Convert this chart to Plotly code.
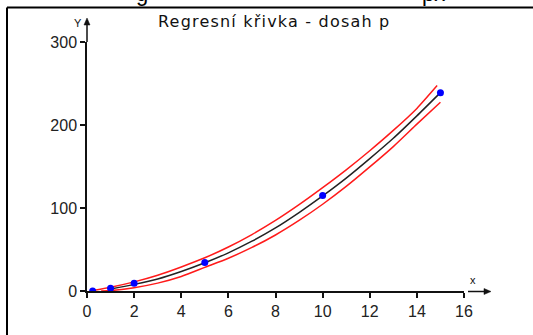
import plotly.graph_objects as go

# Measured points
x_pts = [0.24, 1.0, 2.0, 5.0, 10.0, 15.0]
y_pts = [0.0, 3.4, 9.4, 34.3, 115.0, 239.0]

# Regression curve sampled along x
x_fit = [1, 2, 3, 4, 5, 6, 7, 8, 9, 10, 11, 12, 13, 14, 15]
y_fit = [2.5, 8.0, 14.5, 23.5, 34.0, 46.0, 60.0, 76.0, 94.5, 114.5, 136.0, 159.5, 184.0, 211.0, 239.0]

# Reach limits around the regression curve
x_upper = [0.24, 1, 2, 3, 4, 5, 6, 7, 8, 9, 10, 11, 12, 13, 14, 14.86]
y_upper = [0.5, 4.5, 11.0, 19.0, 29.0, 40.0, 53.0, 68.0, 85.0, 104.0, 124.5, 146.0, 169.0, 193.5, 220.0, 247.5]
x_lower = [0.6, 1, 2, 3, 4, 5, 6, 7, 8, 9, 10, 11, 12, 13, 14, 15]
y_lower = [0.0, 0.5, 4.0, 9.5, 17.5, 28.5, 39.5, 52.5, 67.5, 85.0, 104.5, 126.0, 149.5, 174.0, 201.0, 227.5]

x_ticks = [0, 2, 4, 6, 8, 10, 12, 14, 16]
y_ticks = [0, 100, 200, 300]

FONT = "Arial, Liberation Sans, sans-serif"
INK = "#111111"

# plot area in pixels
W, H = 533, 335
L, R, T, B = 87, 464, 42, 291


def px(xp):
    return (xp - L) / (R - L)


def py(yp):
    return (B - yp) / (B - T)


def path(points):
    return "M " + " L ".join(f"{px(a):.5f},{py(b):.5f}" for a, b in points) + " Z"


fig = go.Figure()
fig.add_trace(go.Scatter(x=x_upper, y=y_upper, mode="lines", line=dict(color="#ff1a1a", width=1.5, shape="spline", smoothing=0.6)))
fig.add_trace(go.Scatter(x=x_lower, y=y_lower, mode="lines", line=dict(color="#ff1a1a", width=1.5, shape="spline", smoothing=0.6)))
fig.add_trace(go.Scatter(x=x_fit, y=y_fit, mode="lines", line=dict(color="#222222", width=1.5, shape="spline", smoothing=0.6)))
fig.add_trace(go.Scatter(x=x_pts, y=y_pts, mode="markers", marker=dict(color="#0000ff", size=7)))

shapes = [
    # outer frame (top and left edges)
    dict(type="line", xref="paper", yref="paper", x0=px(7), x1=px(560), y0=py(7.5), y1=py(7.5),
         line=dict(color="black", width=2)),
    dict(type="line", xref="paper", yref="paper", x0=px(7), x1=px(7), y0=py(7.5), y1=py(360),
         line=dict(color="black", width=2)),
    # axis extensions with arrowheads
    dict(type="line", xref="paper", yref="paper", x0=px(468), x1=px(485), y0=py(291.5), y1=py(291.5),
         line=dict(color=INK, width=1.5)),
    dict(type="path", xref="paper", yref="paper", path=path([(484, 288.5), (491, 291.5), (484, 294.5)]),
         fillcolor=INK, line=dict(color=INK, width=0.5)),
    dict(type="line", xref="paper", yref="paper", x0=px(87), x1=px(87), y0=py(42), y1=py(24),
         line=dict(color=INK, width=1.5)),
    dict(type="path", xref="paper", yref="paper", path=path([(84, 25), (87, 18), (90, 25)]),
         fillcolor=INK, line=dict(color=INK, width=0.5)),
]

annotations = [
    dict(text='<span style="letter-spacing:1.2px">Regresní křivka - dosah p</span>',
         xref="paper", yref="paper", x=px(156), y=py(22),
         xanchor="left", yanchor="middle", showarrow=False,
         font=dict(family="DejaVu Sans, sans-serif", size=16, color=INK)),
    dict(text="x", xref="paper", yref="paper", x=px(473), y=py(280), xanchor="center", yanchor="middle",
         showarrow=False, font=dict(family=FONT, size=11, color=INK)),
    dict(text="Y", xref="paper", yref="paper", x=px(78), y=py(23), xanchor="center", yanchor="middle",
         showarrow=False, font=dict(family=FONT, size=11, color=INK)),
    # heading above the frame (only its lower edge shows)
    dict(text="g", xref="paper", yref="paper", x=px(142), y=py(-6.5), xanchor="center", yanchor="middle",
         showarrow=False, font=dict(family=FONT, size=22, color="black")),
    dict(text="px", xref="paper", yref="paper", x=px(420), y=py(-6.5), xanchor="left", yanchor="middle",
         showarrow=False, font=dict(family=FONT, size=22, color="black")),
]

fig.update_layout(
    width=W, height=H,
    margin=dict(l=L, r=W - R, t=T, b=H - B, pad=0),
    paper_bgcolor="white", plot_bgcolor="white",
    showlegend=False,
    font=dict(family=FONT, size=16, color="#222"),
    shapes=shapes,
    annotations=annotations,
    xaxis=dict(range=[0, 16], tickvals=x_ticks, showgrid=False, zeroline=False,
               showline=True, linecolor=INK, linewidth=1.5,
               ticks="outside", ticklen=5, tickwidth=1.5, tickcolor=INK),
    yaxis=dict(range=[0, 300], tickvals=y_ticks, showgrid=False, zeroline=False,
               showline=True, linecolor=INK, linewidth=1.5,
               ticks="outside", ticklen=5, tickwidth=1.5, tickcolor=INK),
)

fig.write_html("out.html")
